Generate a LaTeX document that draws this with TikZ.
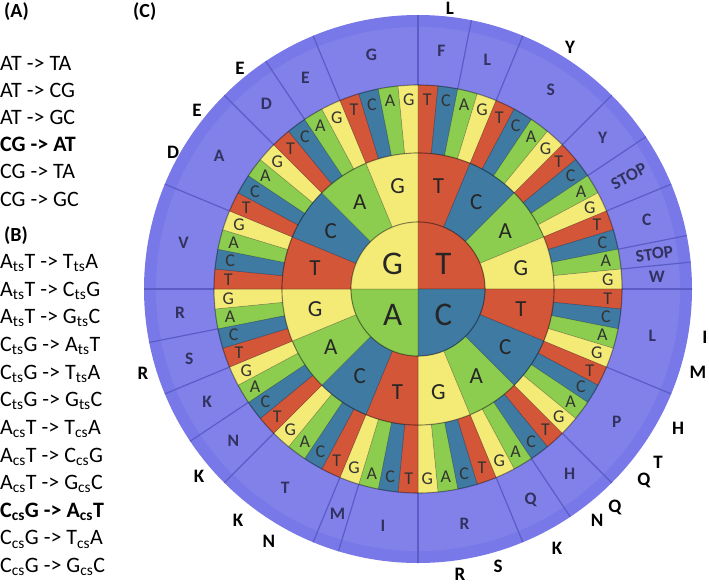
\documentclass[tikz,border=0pt]{standalone}
\usepackage{fontspec}
\setmainfont{Carlito}
\definecolor{baseT}{RGB}{212,86,56}
\definecolor{baseC}{RGB}{62,122,162}
\definecolor{baseA}{RGB}{140,204,78}
\definecolor{baseG}{RGB}{244,234,118}
\definecolor{aaring}{RGB}{120,120,232}
\definecolor{aaedge}{RGB}{92,92,198}
\definecolor{aatext}{RGB}{50,50,96}
\newcommand{\subbase}[1]{\textsubscript{#1}}
\tikzset{
    lbl_panel/.style={font=\fontsize{20}{24}\selectfont\bfseries, anchor=west, inner sep=0pt},
    mut_line/.style={font=\fontsize{22}{26}\selectfont, anchor=west, inner sep=0pt},
    wedge_line/.style={draw=black, draw opacity=0.22, line width=0.6pt},
    ring_shadow/.style={draw=black, draw opacity=0.25, line width=1.2pt},
    aa_sep/.style={draw=aaedge, line width=1.2pt},
    base_big/.style={font=\fontsize{33}{36}\selectfont, text=black!85},
    base_mid/.style={font=\fontsize{23}{26}\selectfont, text=black!85},
    base_small/.style={font=\fontsize{18}{20}\selectfont, text=black!80},
    aa_in/.style={font=\fontsize{17.5}{20}\selectfont\bfseries, text=aatext, inner sep=1pt},
    aa_out/.style={font=\fontsize{19}{22}\selectfont\bfseries, text=black, inner sep=1pt}
}
\begin{document}
\begin{tikzpicture}[x=1pt, y=1pt]
    \useasboundingbox (0,0) rectangle (709,-584);

    % Panel labels
    \node (labA) [lbl_panel] at (4,-12) {(A)};
    \node (labB) [lbl_panel] at (4,-236) {(B)};
    \node (labC) [lbl_panel] at (133,-12) {(C)};

    % (A) base pair substitutions
    \foreach \txt [count=\k] in {AT -> TA, AT -> CG, AT -> GC, \textbf{CG -> AT}, CG -> TA, CG -> GC}
        \node (subA\k) [mut_line] at (0,{-63-27.2*(\k-1)}) {\txt};

    % (B) strand specific substitutions
    \foreach \txt [count=\k] in {
        A\subbase{ts}T -> T\subbase{ts}A, A\subbase{ts}T -> C\subbase{ts}G, A\subbase{ts}T -> G\subbase{ts}C,
        C\subbase{ts}G -> A\subbase{ts}T, C\subbase{ts}G -> T\subbase{ts}A, C\subbase{ts}G -> G\subbase{ts}C,
        A\subbase{cs}T -> T\subbase{cs}A, A\subbase{cs}T -> C\subbase{cs}G, A\subbase{cs}T -> G\subbase{cs}C,
        \textbf{C\subbase{cs}G -> A\subbase{cs}T}, C\subbase{cs}G -> T\subbase{cs}A, C\subbase{cs}G -> G\subbase{cs}C}
        \node (subB\k) [mut_line] at (0,{-263-27.64*(\k-1)}) {\txt};

    % (C) codon wheel
    \begin{scope}[shift={(418,-289)}]
        % amino acid ring
        \fill[aaring] (0,0) circle (274);
        \fill[white, opacity=0.07] (0,0) circle (262) (0,0) circle (214);
        \foreach \g in {0,2,4,8,10,12,14,15,16,20,24,26,28,32,35,36,40,42,44,46,48,52,56,58,60}
            \draw[aa_sep] (90-5.625*\g:204) -- (90-5.625*\g:274);
        \foreach \slot/\aa/\rot [count=\k] in {1/F/0, 3/L/0, 6/S/0, 9/Y/0, 11/STOP/1, 13/C/0, 14.5/STOP/1, 15.5/W/0,
                18/L/0, 22/P/0, 25/H/0, 27/Q/0, 30/R/0, 33.5/I/0, 35.5/M/0, 38/T/0,
                41/N/0, 43/K/0, 45/S/0, 47/R/0, 50/V/0, 54/A/0, 57/D/0, 59/E/0, 62/G/0}{
            \pgfmathsetmacro\m{90-5.625*\slot}
            \node (aa\k) [aa_in, rotate=\rot*\m] at (\m:239) {\aa};
        }

        % third base
        \foreach \fb [count=\ka from 0] in {T,C,A,G}
        \foreach \sb [count=\kb from 0] in {T,C,A,G}
        \foreach \tb [count=\kc from 0] in {T,C,A,G}{
            \pgfmathsetmacro\a{90-5.625*(16*\ka+4*\kb+\kc)}
            \pgfmathsetmacro\e{\a-5.625}
            \pgfmathsetmacro\m{\a-2.8125}
            \filldraw[fill=base\tb, wedge_line] (\a:136) arc[start angle=\a, end angle=\e, radius=136]
                -- (\e:204) arc[start angle=\e, end angle=\a, radius=204] -- cycle;
            \node (th\fb\sb\tb) [base_small] at (\m:190) {\tb};
        }

        % second base
        \foreach \fb [count=\ka from 0] in {T,C,A,G}
        \foreach \sb [count=\kb from 0] in {T,C,A,G}{
            \pgfmathsetmacro\a{90-22.5*(4*\ka+\kb)}
            \pgfmathsetmacro\e{\a-22.5}
            \pgfmathsetmacro\m{\a-11.25}
            \filldraw[fill=base\sb, wedge_line] (\a:67) arc[start angle=\a, end angle=\e, radius=67]
                -- (\e:136) arc[start angle=\e, end angle=\a, radius=136] -- cycle;
            \node (nd\fb\sb) [base_mid] at (\m:105) {\sb};
        }

        % first base
        \foreach \fb [count=\ka from 0] in {T,C,A,G}{
            \pgfmathsetmacro\a{90-90*\ka}
            \filldraw[fill=base\fb, wedge_line] (0,0) -- (\a:67) arc[start angle=\a, end angle=\a-90, radius=67] -- cycle;
            \node (st\fb) [base_big] at (\a-45:36) {\fb};
        }

        % ring edges
        \draw[ring_shadow] (0,0) circle (204);
        \draw[ring_shadow] (0,0) circle (136);
        \draw[ring_shadow] (0,0) circle (67);
    \end{scope}

    % amino acids after substitution
    \foreach \x/\y/\aa [count=\k] in {450/8/L, 570/47/Y, 240/68/E, 197/110/E, 173/152/D, 143/373/R,
            199/476/K, 238/520/K, 269/541/N, 460/574/R, 498/566/S, 557/548/K, 597/520/N,
            615/507/Q, 644/480/Q, 658/462/T, 678/428/H, 698/372/M, 705/337/I}
        \node (mut\k) [aa_out] at (\x,-\y) {\aa};
\end{tikzpicture}
\end{document}
